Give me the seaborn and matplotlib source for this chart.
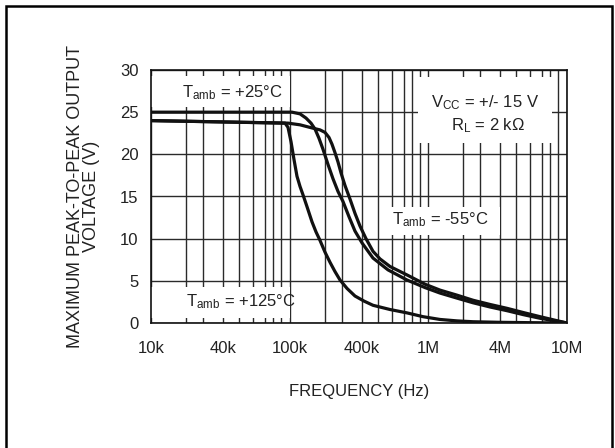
import matplotlib
matplotlib.use("Agg")
import matplotlib.pyplot as plt
import numpy as np
import pandas as pd
import seaborn as sns
from matplotlib.patches import Rectangle

# Output swing vs frequency, one series per ambient temperature
freq_p25 = [1e4, 104.7e3, 122.7e3, 138.2e3, 152.6e3, 165.2e3, 178.8e3, 193.5e3,
            216.6e3, 244.0e3, 274.8e3, 305.9e3, 333.4e3, 363.4e3, 401.9e3, 468.5e3,
            572.0e3, 739.9e3, 960.3e3, 1.260e6, 1.765e6, 2.519e6, 3.447e6, 4.390e6,
            5.454e6, 6.795e6, 8.570e6, 1e7]
vout_p25 = [25.0, 25.0, 24.8, 24.3, 23.7, 23.0, 21.9, 20.6,
            18.8, 17.1, 15.6, 14.4, 12.6, 10.9, 9.5, 7.7,
            6.3, 5.1, 4.2, 3.55, 2.95, 2.4, 1.9, 1.46,
            1.0, 0.56, 0.25, 0.0]

freq_m55 = [1e4, 98.0e3, 122.7e3, 158.7e3, 182.3e3, 201.6e3, 221.8e3, 238.2e3,
            255.8e3, 274.8e3, 295.3e3, 314.8e3, 338.2e3, 363.4e3, 390.4e3, 424.9e3,
            468.5e3, 515.4e3, 587.1e3, 739.9e3, 960.3e3, 1.260e6, 1.765e6, 2.519e6,
            3.447e6, 4.390e6, 5.454e6, 6.795e6, 8.570e6, 1e7]
vout_m55 = [24.0, 23.7, 23.5, 23.1, 22.9, 22.6, 22.0, 21.2,
            20.2, 19.1, 17.8, 16.3, 14.7, 13.0, 11.5, 10.0,
            8.5, 7.6, 6.7, 5.7, 4.6, 3.9, 3.3, 2.7,
            2.2, 1.74, 1.25, 0.75, 0.33, 0.0]

freq_p125 = [1e4, 94.5e3, 98.0e3, 102.7e3, 108.9e3, 115.6e3, 122.7e3, 130.2e3,
             140.9e3, 155.6e3, 168.5e3, 182.3e3, 201.6e3, 227.1e3, 255.8e3, 288.4e3,
             324.0e3, 363.4e3, 413.2e3, 468.5e3, 587.1e3, 739.9e3, 937.2e3, 1.260e6,
             1.765e6, 2.519e6, 3.981e6, 5.974e6, 1e7]
vout_p125 = [24.0, 23.7, 23.2, 21.5, 19.4, 17.4, 16.2, 15.2,
             13.8, 12.0, 10.8, 9.8, 8.4, 7.2, 6.1, 5.1,
             4.1, 3.2, 2.6, 2.1, 1.6, 1.2, 0.75, 0.42,
             0.25, 0.15, 0.08, 0.04, 0.0]

temps = ["+25°C", "-55°C", "+125°C"]

tick_freqs = [1e4, 4e4, 1e5, 4e5, 1e6, 4e6, 1e7]
tick_names = ["10k", "40k", "100k", "400k", "1M", "4M", "10M"]
volt_ticks = [0, 5, 10, 15, 20, 25, 30]

df = pd.concat([
    pd.DataFrame({"freq": freq_p25, "vout": vout_p25, "temp": temps[0]}),
    pd.DataFrame({"freq": freq_m55, "vout": vout_m55, "temp": temps[1]}),
    pd.DataFrame({"freq": freq_p125, "vout": vout_p125, "temp": temps[2]}),
], ignore_index=True)

# Log-style frequency axis with the printed graph paper's gridline spacing
# (position of the 1x..9x lines inside one decade, in 1/138.67 of a decade).
_paper_offsets = [0, 35, 52, 72, 88, 102, 114, 122, 130]
_L = [np.log10(m * 10.0 ** k) for k in range(4, 7) for m in range(1, 10)] + [7.0]
_P = [(k - 4) + off / 138.67 for k in range(4, 7) for off in _paper_offsets] + [3.0]


def _fwd(x):
    lx = np.log10(np.clip(np.asarray(x, dtype=float), 1e-300, None))
    p = np.interp(lx, _L, _P)
    return np.where((lx < 4) | (lx > 7), lx - 4, p)


def _inv(p):
    p = np.asarray(p, dtype=float)
    lx = np.interp(p, _P, _L)
    lx = np.where((p < 0) | (p > 3), p + 4, lx)
    return 10.0 ** lx


sns.set_theme(style="white")
plt.rcParams["font.family"] = ["Liberation Sans", "DejaVu Sans"]
plt.rcParams["mathtext.default"] = "regular"

fig = plt.figure(figsize=(6.15, 4.48), dpi=100)
ax = fig.add_axes([151 / 615, 1 - 323 / 448, (567 - 151) / 615, (323 - 70) / 448])
ax.set_xscale("function", functions=(_fwd, _inv))

sns.lineplot(data=df, x="freq", y="vout", hue="temp", palette=["#111111"] * 3,
             estimator=None, legend=False, linewidth=2.3, ax=ax, zorder=3)
for ln in ax.get_lines():
    ln.set_solid_joinstyle("round")
    ln.set_solid_capstyle("round")

ax.set_xlim(1e4, 1e7)
ax.set_ylim(0, 30)

minor = [m * 10 ** k for k in range(4, 7) for m in range(2, 10)]
ax.set_xticks(minor, minor=True)
ax.set_xticklabels([], minor=True)
ax.set_xticks(tick_freqs)
ax.set_xticklabels(tick_names)
ax.set_yticks(volt_ticks)
ax.set_yticklabels([str(v) for v in volt_ticks])

ax.set_axisbelow(True)
ax.grid(True, which="both", axis="x", color="#2a2a2a", linewidth=1.0)
ax.grid(True, which="major", axis="y", color="#2a2a2a", linewidth=1.0)
ax.tick_params(which="both", length=0)
ax.tick_params(axis="x", labelsize=12, pad=13, colors="#222222")
ax.tick_params(axis="y", labelsize=12, pad=9, colors="#222222")

for s in ax.spines.values():
    s.set_visible(True)
    s.set_color("#111111")
    s.set_linewidth(1.2)

ax.set_xlabel("FREQUENCY (Hz)", fontsize=12, labelpad=20, color="#222222")
ax.set_ylabel("MAXIMUM PEAK-TO-PEAK OUTPUT\nVOLTAGE (V)", fontsize=13,
              labelpad=14, color="#222222", linespacing=0.95, multialignment="center")

# white label panels that hide the grid behind the annotations
panels = [
    (1.0e4, 25.6, 1.0e5, 29.3),
    (8.8e5, 21.4, 8.2e6, 29.2),
    (5.5e5, 10.4, 4.0e6, 13.8),
    (1.0e4, 0.6, 1.0e5, 4.3),
]
for x0, y0, x1, y1 in panels:
    ax.add_patch(Rectangle((x0, y0), x1 - x0, y1 - y0, facecolor="white",
                           edgecolor="none", zorder=1))

txt = dict(fontsize=12, color="#222222", ha="center", va="center", zorder=4)
ax.text(4.54e4, 27.3, r"T$_{\mathregular{amb}}$ = +25°C", **txt)
ax.text(3.21e6, 26.1, r"V$_{\mathregular{CC}}$ = +/- 15 V", **txt)
ax.text(3.35e6, 23.4, r"R$_{\mathregular{L}}$ = 2 kΩ", **txt)
ax.text(1.26e6, 12.2, r"T$_{\mathregular{amb}}$ = -55°C", **txt)
ax.text(5.13e4, 2.5, r"T$_{\mathregular{amb}}$ = +125°C", **txt)

# outer frame
fig.patches.append(Rectangle((6 / 615, -0.1), (612 - 6) / 615, 1 - 6 / 448 + 0.1,
                             transform=fig.transFigure, fill=False,
                             edgecolor="black", linewidth=1.8))

fig.savefig("out.png", dpi=100)
